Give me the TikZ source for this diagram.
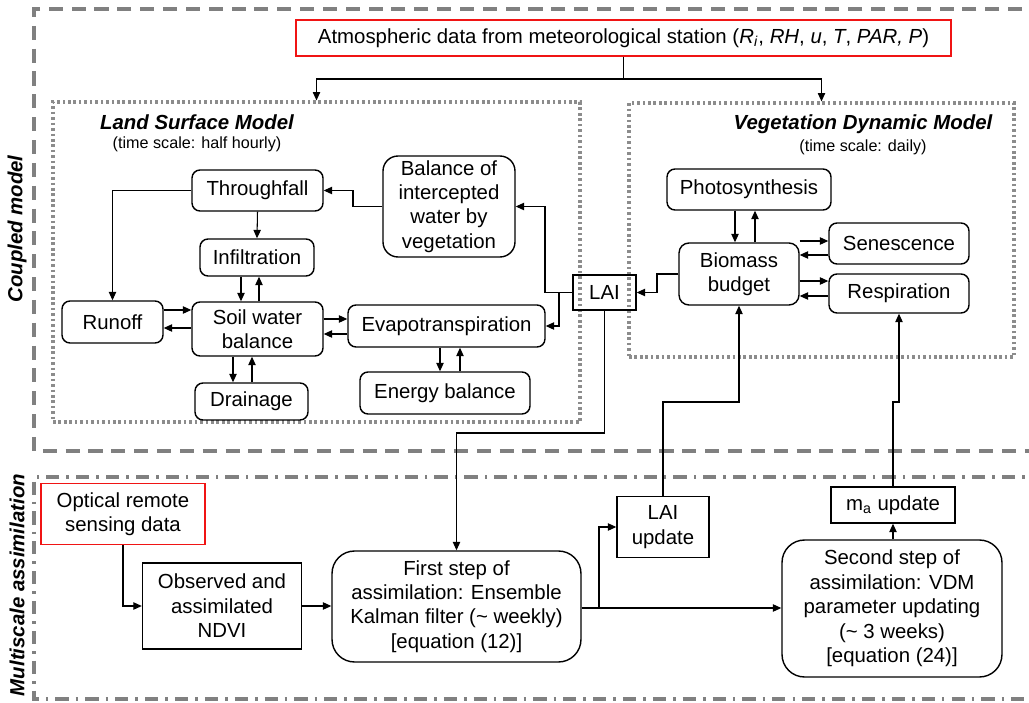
\documentclass[tikz,border=0pt]{standalone}
\usepackage{fontspec}
\setmainfont{Liberation Sans}
\usetikzlibrary{calc, arrows.meta, positioning}
\definecolor{framegray}{RGB}{128,128,128}
\definecolor{dotgray}{RGB}{140,140,140}
\definecolor{datared}{RGB}{240,20,20}

\begin{document}
\begin{tikzpicture}[
    x=0.02cm, y=-0.02cm,
    every node/.style={font=\fontsize{11.6}{13.9}\selectfont, inner sep=1pt},
    rbox/.style={draw, line width=0.8pt, rounded corners=0.16cm, align=center},
    sbox/.style={draw, line width=0.8pt, align=center},
    databox/.style={draw=datared, line width=0.8pt, align=center},
    dotbox/.style={draw=dotgray, line width=1.8pt, dash pattern=on 1.5pt off 1.6pt},
    head/.style={font=\fontsize{11.6}{13.9}\selectfont\bfseries\itshape},
    sub/.style={font=\fontsize{9.2}{11}\selectfont},
    arr/.style={-{Triangle[length=4.8pt,width=4.2pt]}, line width=0.6pt},
    ln/.style={line width=0.6pt},
  ]
  \useasboundingbox (0,0) rectangle (1029,703);

  % outer frames (open on the right)
  \draw[framegray, line width=1.9pt, dash pattern=on 8pt off 5pt]
    (1045,9) -- (34,9) -- (34,451) -- (1045,451);
  \draw[framegray, line width=1.9pt, dash pattern=on 7.5pt off 4pt on 1.5pt off 4pt]
    (1045,477) -- (34,477) -- (34,699) -- (1045,699);
  \node[head, rotate=90] (coupled) at (17,229) {Coupled model};
  \node[head, rotate=90] (multi) at (17,585) {Multiscale assimilation};

  % model boxes
  \node[dotbox, minimum width=10.54cm, minimum height=6.40cm] (lsm) at (316.5,262) {};
  \node[dotbox, minimum width=7.70cm, minimum height=5.08cm] (vdm) at (821.5,230) {};
  \node[head] (lsmtitle) at (197,122) {Land Surface Model};
  \node[sub] (lsmsub) at (197,144) {(time scale: half hourly)};
  \node[head] (vdmtitle) at (863,124) {Vegetation Dynamic Model};
  \node[sub] (vdmsub) at (863,147) {(time scale: daily)};

  % forcing
  \node[databox, minimum width=13.1cm, minimum height=0.72cm] (atmos) at (623.5,38)
    {Atmospheric data from meteorological station (\textit{R}\textsubscript{\textit{i}}, \textit{RH}, \textit{u}, \textit{T}, \textit{PAR, P})};
  \coordinate (split) at (atmos.south |- 0,79);
  \draw[ln] (atmos.south) -- (split);
  \draw[arr] (split) -| (lsm.north);
  \draw[arr] (split) -| (vdm.north);

  % land surface model
  \node[rbox, minimum width=2.62cm, minimum height=0.82cm] (thr) at (257.5,190.5) {Throughfall};
  \node[rbox, rounded corners=0.3cm, minimum width=2.64cm, minimum height=2.02cm] (bal) at (449,206.5)
    {Balance of\\intercepted\\water by\\vegetation};
  \node[rbox, minimum width=2.28cm, minimum height=0.74cm] (inf) at (257,257.5) {Infiltration};
  \node[rbox, minimum width=2.02cm, minimum height=0.84cm] (run) at (112.5,322) {Runoff};
  \node[rbox, minimum width=2.62cm, minimum height=1.08cm] (soil) at (257.5,329) {Soil water\\balance};
  \node[rbox, minimum width=3.94cm, minimum height=0.84cm] (evap) at (446.5,326) {Evapotranspiration};
  \node[rbox, minimum width=2.26cm, minimum height=0.74cm] (drain) at (251.5,401.5) {Drainage};
  \node[rbox, minimum width=3.40cm, minimum height=0.84cm] (energy) at (445,393) {Energy balance};
  \node[sbox, minimum width=1.26cm, minimum height=0.70cm] (lai) at (604.5,292.5) {LAI};

  \draw[arr] (bal.west) -- (bal.west -| 353,0) |- (thr.east);
  \draw[arr] (thr.west) -| (run.north);
  \draw[arr] (thr.south) -- (inf.north);
  \draw[arr] (inf.south -| 241,0) -- (soil.north -| 241,0);
  \draw[arr] (soil.north -| 259,0) -- (inf.south -| 259,0);
  \draw[arr] (run.east |- 0,310) -- (soil.west |- 0,310);
  \draw[arr] (soil.west |- 0,328) -- (run.east |- 0,328);
  \draw[arr] (soil.east |- 0,319) -- (evap.west |- 0,319);
  \draw[arr] (evap.west |- 0,334) -- (soil.east |- 0,334);
  \draw[arr] (soil.south -| 233,0) -- (drain.north -| 233,0);
  \draw[arr] (drain.north -| 252,0) -- (soil.south -| 252,0);
  \draw[arr] (evap.south -| 440,0) -- (energy.north -| 440,0);
  \draw[arr] (energy.north -| 460,0) -- (evap.south -| 460,0);
  \draw[arr] (lai.west) -- (lai.west -| 545,0) |- (bal.east);
  \draw[arr] (lai.west -| 559,0) |- (evap.east);

  % vegetation dynamic model
  \node[rbox, minimum width=3.28cm, minimum height=0.82cm] (photo) at (749,189.5) {Photosynthesis};
  \node[rbox, rounded corners=0.2cm, minimum width=2.40cm, minimum height=1.24cm] (bio) at (739,274) {Biomass\\budget};
  \node[rbox, minimum width=2.80cm, minimum height=0.82cm] (sen) at (899,243.5) {Senescence};
  \node[rbox, minimum width=2.80cm, minimum height=0.78cm] (resp) at (899,293.5) {Respiration};

  \draw[arr] (bio.west) -- (bio.west -| 657,0) |- (lai.east);
  \draw[arr] (photo.south -| 735,0) -- (bio.north -| 735,0);
  \draw[arr] (bio.north -| 755,0) -- (photo.south -| 755,0);
  \draw[arr] (bio.east |- 0,241) -- (sen.west |- 0,241);
  \draw[arr] (sen.west |- 0,255) -- (bio.east |- 0,255);
  \draw[arr] (bio.east |- 0,281) -- (resp.west |- 0,281);
  \draw[arr] (resp.west |- 0,296) -- (bio.east |- 0,296);

  % assimilation
  \node[databox, minimum width=3.28cm, minimum height=1.22cm] (optical) at (123,514) {Optical remote\\sensing data};
  \node[sbox, minimum width=3.18cm, minimum height=1.72cm] (ndvi) at (222,606) {Observed and\\assimilated\\NDVI};
  \node[rbox, rounded corners=0.45cm, minimum width=4.98cm, minimum height=2.22cm] (first) at (456.5,606.5)
    {First step of\\assimilation: Ensemble\\Kalman filter (\textasciitilde{} weekly)\\{}[equation (12)]};
  \node[sbox, minimum width=1.84cm, minimum height=1.22cm] (laiup) at (663,527) {LAI\\update};
  \node[sbox, minimum width=2.48cm, minimum height=0.72cm] (maup) at (893,505) {m\textsubscript{a} update};
  \node[rbox, rounded corners=0.45cm, minimum width=4.40cm, minimum height=2.74cm] (second) at (892,608.5)
    {Second step of\\assimilation: VDM\\parameter updating\\(\textasciitilde{} 3 weeks)\\{}[equation (24)]};

  \draw[arr] (optical.south) |- (ndvi.west);
  \draw[arr] (ndvi.east) -- (ndvi.east -| first.west);
  \draw[arr] (first.east |- 0,608) -- (second.west |- 0,608);
  \draw[arr] (first.east -| 599,0) |- (laiup.west);
  \draw[arr] (second.north -| maup.south) -- (maup.south);
  \draw[arr] (lai.south) -- (lai.south |- 0,433) -| (first.north);
  \draw[arr] (laiup.north) -- (laiup.north |- 0,402) -| (bio.south);
  \draw[arr] (maup.north) -- (maup.north |- 0,402) -| (resp.south);
\end{tikzpicture}
\end{document}
